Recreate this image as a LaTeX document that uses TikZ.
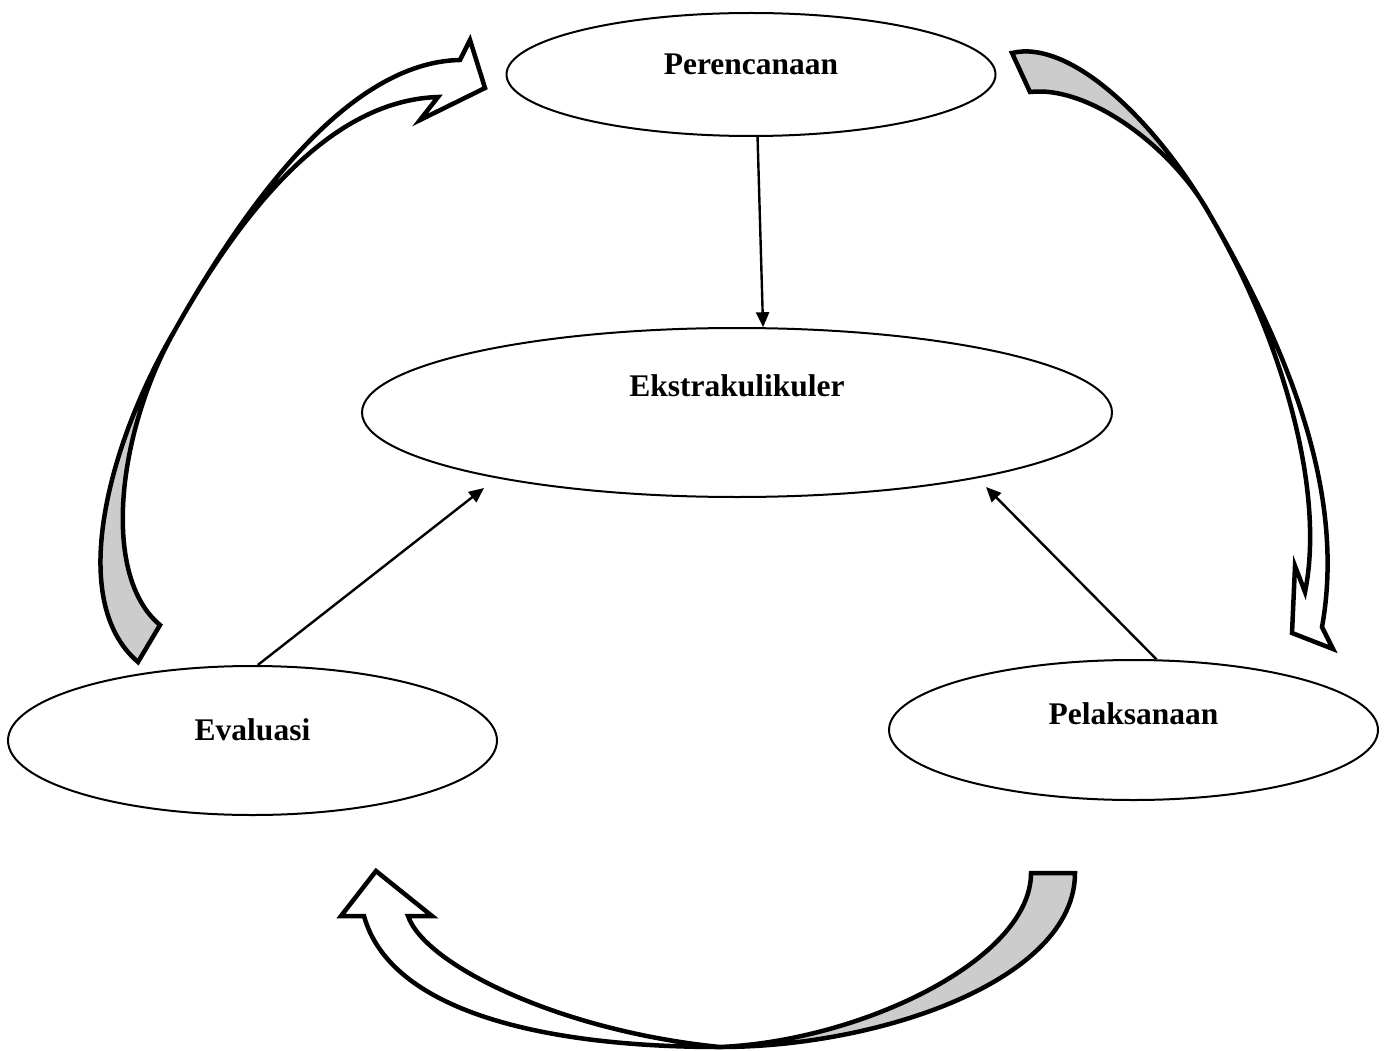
\documentclass[tikz,border=0pt]{standalone}
\usepackage{fontspec}
\setmainfont{Liberation Serif}
\usetikzlibrary{shapes.geometric,arrows.meta}
\definecolor{backgray}{RGB}{204,204,204}
\tikzset{
  stage/.style={draw, ellipse, line width=2pt, inner sep=0pt},
  stagetext/.style={anchor=base, font=\fontsize{31.5}{36}\selectfont\bfseries},
  link/.style={-{Triangle[length=15pt,width=13pt]}, line width=2.4pt},
  ribbonback/.style={draw, fill=backgray, line width=4.5pt, line join=miter},
  ribbonfront/.style={draw, fill=white, line width=4.5pt, line join=miter}
}
\begin{document}
\begin{tikzpicture}[x=1pt, y=-1pt]

  \useasboundingbox (0,0) rectangle (1389,1051);

  \node[stage, minimum width=489pt, minimum height=123pt] (pren) at (751,74.5) {};
  \node[stage, minimum width=750pt, minimum height=169pt] (ekstra) at (737,412.5) {};
  \node[stage, minimum width=489pt, minimum height=149pt] (eval) at (252.5,740.5) {};
  \node[stage, minimum width=489pt, minimum height=140pt] (pelak) at (1133.5,730) {};

  \node[stagetext] (pren-t) at ([yshift=-0.5pt]pren.center) {Perencanaan};
  \node[stagetext] (ekstra-t) at ([yshift=16.5pt]ekstra.center) {Ekstrakulikuler};
  \node[stagetext] (eval-t) at ([yshift=0.5pt]eval.center) {Evaluasi};
  \node[stagetext] (pelak-t) at ([yshift=6pt]pelak.center) {Pelaksanaan};

  \coordinate (ekstra-l) at (484,488);
  \coordinate (ekstra-r) at (986,487);

  \draw[link] (pren.-84) -- (ekstra.73.5); %% pren->ekstra
  \draw[link] (eval.86) -- (ekstra-l); %% eval->ekstra
  \draw[link] (pelak.72) -- (ekstra-r); %% pelak->ekstra

  %% eval->pren
  \filldraw[ribbonback] (138,662) -- (160,625) .. controls (100,575) and (118,430) .. (175,330)
    .. controls (110,440) and (65,600) .. (138,662) -- cycle;
  \filldraw[ribbonfront] (175,330) .. controls (248,200) and (350,62) .. (460,60)
    -- (470,40) -- (485,88) -- (420,120) -- (438,97)
    .. controls (345,100) and (258,182) .. (175,330) -- cycle;

  %% pren->pelak
  \filldraw[ribbonback] (1012,53) -- (1030,92) .. controls (1090,85) and (1175,150) .. (1210,215)
    .. controls (1155,120) and (1070,39) .. (1012,53) -- cycle;
  \filldraw[ribbonfront] (1210,215) .. controls (1295,361) and (1345,500) .. (1322,627)
    -- (1333,649) -- (1292,633) -- (1295,566) -- (1305,592)
    .. controls (1325,494) and (1285,344) .. (1210,215) -- cycle;

  %% pelak->eval
  \filldraw[ribbonback] (1075,873) -- (1031,873) .. controls (1031,960) and (860,1041) .. (720,1047)
    .. controls (880,1047) and (1075,980) .. (1075,873) -- cycle;
  \filldraw[ribbonfront] (720,1047) .. controls (540,1047) and (390,1010) .. (364,916)
    -- (341,916) -- (376,871) -- (432,916) -- (408,916)
    .. controls (425,965) and (560,1031) .. (720,1047) -- cycle;

\end{tikzpicture}
\end{document}
